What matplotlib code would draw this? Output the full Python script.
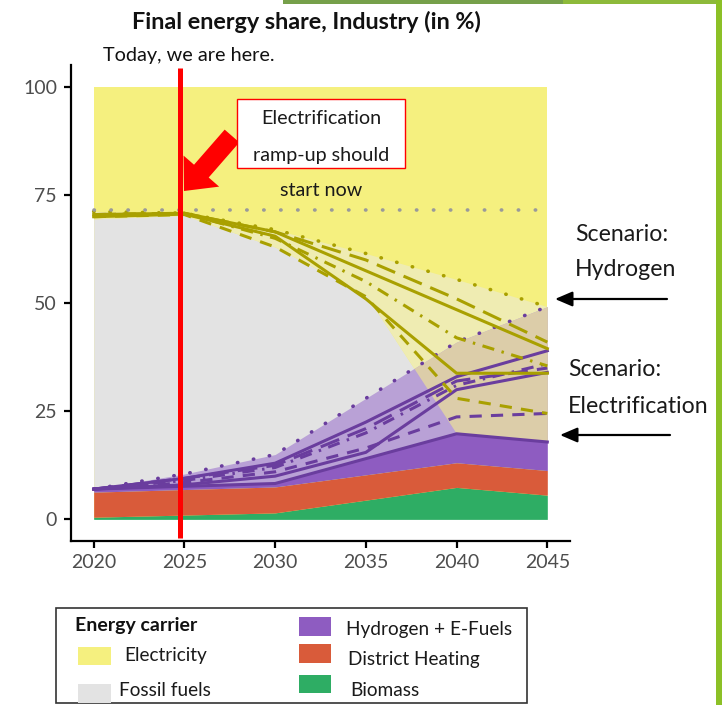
import numpy as np
import matplotlib
matplotlib.use('Agg')
import matplotlib.pyplot as plt
from matplotlib.patches import Rectangle

plt.rcParams['font.family'] = ['Lato', 'DejaVu Sans']

# ---------------- data ----------------
years = [2020, 2025, 2030, 2035, 2040, 2045]
biomass = [0.5, 1.0, 1.5, 4.45, 7.4, 5.6]
district_heating = [5.8, 5.9, 6.0, 5.85, 5.7, 5.7]
hydrogen = [0.7, 0.75, 0.8, 3.75, 6.7, 6.6]
fossil = [62.5, 62.65, 54.7, 37.95, 0.0, 0.0]

# scenario ranges (upper bounds, cumulative level in %)
elec_range_top = [71.2, 70.8, 67.0, 61.5, 55.5, 49.2]
h2_range_top = [7.0, 10.5, 15.0, 28.0, 41.0, 49.2]

# electricity-boundary scenario lines
elec_lines = {
    'solid1': [70.5, 70.8, 66.5, 57.5, 48.5, 39.5],
    'solid2': [70.0, 70.6, 65.5, 51.0, 33.8, 33.8],
    'dashed': [70.0, 70.5, 63.0, 51.5, 28.0, 24.5],
    'dashdot': [70.5, 70.8, 65.0, 55.0, 42.0, 35.5],
    'longdash': [70.5, 70.8, 66.5, 60.0, 51.0, 41.0],
}
# hydrogen-boundary scenario lines
h2_lines = {
    'solid1': [7.0, 9.5, 13.0, 22.5, 33.0, 39.0],
    'solid2': [7.0, 8.0, 10.0, 15.5, 30.0, 34.0],
    'dashed': [7.0, 8.5, 11.0, 16.5, 23.7, 24.5],
    'dashdot': [7.0, 9.0, 12.0, 20.0, 31.0, 36.0],
    'longdash': [7.0, 9.5, 12.5, 21.0, 32.0, 35.0],
}
ref_level = 71.5
today_year = 2024.75

xticks = [2020, 2025, 2030, 2035, 2040, 2045]
yticks = [0, 25, 50, 75, 100]

legend_labels_left = ['Electricity', 'Fossil fuels']
legend_labels_right = ['Hydrogen + E-Fuels', 'District Heating', 'Biomass']

# ---------------- colours ----------------
c_yellow = '#F5F07F'
c_gray = '#E3E3E3'
c_lyellow = '#EFECB2'
c_lpurple = '#B9A1D6'
c_tan = '#DCCDA9'
c_purple = '#8E5CC1'
c_red = '#D95B3A'
c_green = '#2EAD64'
c_olive = '#A9A000'
c_pline = '#6A3D9E'

W, H = 722, 705
fig = plt.figure(figsize=(W / 100, H / 100), dpi=100)
ax = fig.add_axes([71 / W, 1 - 541 / H, 499 / W, 475.6 / H])
ax.set_xlim(2018.75, 2046.25)
ax.set_ylim(-5, 105)

yrs = np.array(years, float)
b = np.array(biomass)
dh_top = b + np.array(district_heating)
h_top = dh_top + np.array(hydrogen)
f_top = h_top + np.array(fossil)
e_hi = np.array(elec_range_top)
h_hi = np.array(h2_range_top)

ax.fill_between(yrs, 0, 100, color=c_yellow, lw=0)
ax.fill_between(yrs, h_top, f_top, color=c_gray, lw=0)
ax.fill_between(yrs, f_top, e_hi, color=c_lyellow, lw=0)
ax.fill_between(yrs, h_top, h_hi, color=c_lpurple, lw=0)
# overlap of both ranges
xs = np.linspace(yrs[0], yrs[-1], 1001)
lo_ov = np.maximum(np.interp(xs, yrs, f_top), np.interp(xs, yrs, h_top))
hi_ov = np.minimum(np.interp(xs, yrs, e_hi), np.interp(xs, yrs, h_hi))
ax.fill_between(xs, lo_ov, hi_ov, where=hi_ov > lo_ov, color=c_tan, lw=0)

ax.fill_between(yrs, 0, b, color=c_green, lw=0)
ax.fill_between(yrs, b, dh_top, color=c_red, lw=0)
ax.fill_between(yrs, dh_top, h_top, color=c_purple, lw=0)

styles = {
    'solid1': '-',
    'solid2': '-',
    'dashed': (0, (4, 3)),
    'dashdot': (0, (4, 2.5, 0.8, 2.5)),
    'longdash': (0, (6.5, 3)),
}
lw = 2.2
ax.plot(yrs, h_top, color=c_pline, lw=lw)
for k, v in h2_lines.items():
    ax.plot(yrs, v, color=c_pline, lw=lw, linestyle=styles[k])
ax.plot(yrs, h_hi, color=c_pline, lw=2.6, linestyle=(0, (0.1, 4.4)),
        dash_capstyle='round')
for k, v in elec_lines.items():
    ax.plot(yrs, v, color=c_olive, lw=lw, linestyle=styles[k])
ax.plot(yrs, e_hi, color=c_olive, lw=2.6, linestyle=(0, (0.1, 4.4)),
        dash_capstyle='round')
ax.plot([yrs[0], yrs[-1]], [ref_level, ref_level], color='#9A9A9A', lw=2.6,
        linestyle=(0, (0.1, 4.6)), dash_capstyle='round')

ax.plot([today_year, today_year], [-4.2, 104.4], color='#FF0000', lw=3.6,
        solid_capstyle='butt', clip_on=False, zorder=5)

for s in ['top', 'right']:
    ax.spines[s].set_visible(False)
for s in ['left', 'bottom']:
    ax.spines[s].set_linewidth(1.6)
    ax.spines[s].set_color('black')
ax.set_xticks(xticks)
ax.set_yticks(yticks)
ax.tick_params(length=5, width=1.6, colors='black', labelcolor='#4D4D4D',
               labelsize=14)
ax.tick_params(axis='x', pad=4)
ax.tick_params(axis='y', pad=5)


def ftxt(x, y, s, **kw):
    fig.text(x / W, 1 - y / H, s, **kw)


# title and annotations
ftxt(306, 22, 'Final energy share, Industry (in %)', ha='center', va='center',
     fontsize=16.8, fontweight='bold', color='#111111')
ftxt(103, 55, 'Today, we are here.', ha='left', va='center', fontsize=14.3,
     color='#111111')

fig.add_artist(Rectangle((237 / W, 1 - 168 / H), 168 / W, 69 / H,
                         transform=fig.transFigure, facecolor='white',
                         edgecolor='#FF0000', lw=1.0))
for txt, y in [('Electrification', 119), ('ramp-up should', 155),
               ('start now', 191)]:
    ftxt(321, y, txt, ha='center', va='center', fontsize=14.2, color='#1a1a1a')

ax.annotate('', xy=(184, H - 191), xycoords='figure pixels',
            xytext=(232, H - 136), textcoords='figure pixels',
            arrowprops=dict(arrowstyle='simple,head_length=1.9,head_width=3.4,tail_width=1.4',
                            mutation_scale=10, color='#FF0000', lw=0,
                            shrinkA=0, shrinkB=0))

ftxt(575, 235, 'Scenario:', ha='left', va='center', fontsize=16.7, color='#1a1a1a')
ftxt(575, 270, 'Hydrogen', ha='left', va='center', fontsize=16.7, color='#1a1a1a')
ftxt(568, 370, 'Scenario:', ha='left', va='center', fontsize=16.7, color='#1a1a1a')
ftxt(568, 406, 'Electrification', ha='left', va='center', fontsize=16.7,
     color='#1a1a1a')
for (x0, x1, y) in [(667, 555, 299), (670, 560, 435)]:
    ax.annotate('', xy=(x1, H - y), xycoords='figure pixels',
                xytext=(x0, H - y), textcoords='figure pixels',
                arrowprops=dict(arrowstyle='-|>,head_length=0.7,head_width=0.3',
                                mutation_scale=15, color='black', lw=1.6,
                                shrinkA=0, shrinkB=0))

# legend box
fig.add_artist(Rectangle((56 / W, 1 - 703 / H), 471 / W, 95 / H,
                         transform=fig.transFigure, facecolor='white',
                         edgecolor='#333333', lw=1.2))
ftxt(75, 625, 'Energy carrier', ha='left', va='center', fontsize=14,
     fontweight='bold', color='#111111')
left_sw = [(c_yellow, 647, 665, 124, 655), (c_gray, 684, 703, 119, 690)]
for (c, y0, y1, tx, ty), lab in zip(left_sw, legend_labels_left):
    fig.add_artist(Rectangle((78 / W, 1 - y1 / H), 33 / W, (y1 - y0) / H,
                             transform=fig.transFigure, facecolor=c, lw=0))
    ftxt(tx, ty, lab, ha='left', va='center', fontsize=13.7, color='#1a1a1a')
right_sw = [(c_purple, 617, 636, 346, 630), (c_red, 644, 663, 348, 660),
            (c_green, 675, 693, 350, 690)]
for (c, y0, y1, tx, ty), lab in zip(right_sw, legend_labels_right):
    fig.add_artist(Rectangle((299 / W, 1 - y1 / H), 32 / W, (y1 - y0) / H,
                             transform=fig.transFigure, facecolor=c, lw=0))
    ftxt(tx, ty, lab, ha='left', va='center', fontsize=13.7, color='#1a1a1a')

# slide decorations
fig.add_artist(Rectangle((283 / W, 1 - 4 / H), 280 / W, 4 / H,
                         transform=fig.transFigure, facecolor='#76A04A', lw=0))
fig.add_artist(Rectangle((563 / W, 1 - 4 / H), 159 / W, 4 / H,
                         transform=fig.transFigure, facecolor='#8DBA3A', lw=0))
fig.add_artist(Rectangle((716 / W, 0), 6 / W, 1,
                         transform=fig.transFigure, facecolor='#8CC026', lw=0))

fig.savefig('out.png', dpi=100)
